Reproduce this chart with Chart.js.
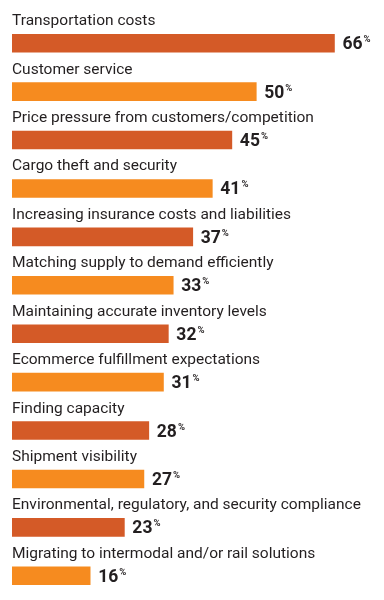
<!DOCTYPE html>
<html>
<head>
<meta charset="utf-8">
<script src="https://cdn.jsdelivr.net/npm/chart.js@4/dist/chart.umd.min.js"></script>
<style>
  html, body { margin: 0; padding: 0; background: #fff; }
  #wrap { width: 384px; height: 600px; }
</style>
</head>
<body>
<div id="wrap"><canvas id="barChart" width="384" height="600"></canvas></div>
<script>
const categories = [
  'Transportation costs',
  'Customer service',
  'Price pressure from customers/competition',
  'Cargo theft and security',
  'Increasing insurance costs and liabilities',
  'Matching supply to demand efficiently',
  'Maintaining accurate inventory levels',
  'Ecommerce fulfillment expectations',
  'Finding capacity',
  'Shipment visibility',
  'Environmental, regulatory, and security compliance',
  'Migrating to intermodal and/or rail solutions'
];
const values = [66, 50, 45, 41, 37, 33, 32, 31, 28, 27, 23, 16];

const darkOrange = '#d45a27';
const lightOrange = '#f68b1f';

// labels above each bar + bold value with small % to the right
const labelPlugin = {
  id: 'rowLabels',
  afterDatasetsDraw(chart) {
    const ctx = chart.ctx;
    const meta = chart.getDatasetMeta(0);
    ctx.save();
    meta.data.forEach((bar, i) => {
      const left = chart.chartArea.left;
      ctx.fillStyle = '#231f20';
      ctx.textBaseline = 'alphabetic';
      ctx.textAlign = 'left';
      ctx.font = '15.5px Roboto';
      ctx.fillText(categories[i], left, bar.y - 18);

      const num = String(values[i]);
      ctx.font = 'bold 17.5px Roboto';
      const x0 = bar.x + 8;
      ctx.fillText(num, x0, bar.y + 6);
      const w = ctx.measureText(num).width;
      ctx.font = 'bold 9.5px Roboto';
      ctx.fillText('%', x0 + w + 1, bar.y - 1);
    });
    ctx.restore();
  }
};

new Chart(document.getElementById('barChart'), {
  type: 'bar',
  data: {
    labels: categories,
    datasets: [{
      data: values,
      backgroundColor: values.map((v, i) => i % 2 === 0 ? darkOrange : lightOrange),
      barThickness: 18,
      borderWidth: 0
    }]
  },
  options: {
    indexAxis: 'y',
    responsive: false,
    animation: false,
    layout: { padding: { left: 12, right: 30, top: 19, bottom: 0 } },
    plugins: {
      legend: { display: false },
      tooltip: { enabled: false }
    },
    scales: {
      x: { min: 0, max: 70, display: false },
      y: { display: false }
    }
  },
  plugins: [labelPlugin]
});
</script>
</body>
</html>
